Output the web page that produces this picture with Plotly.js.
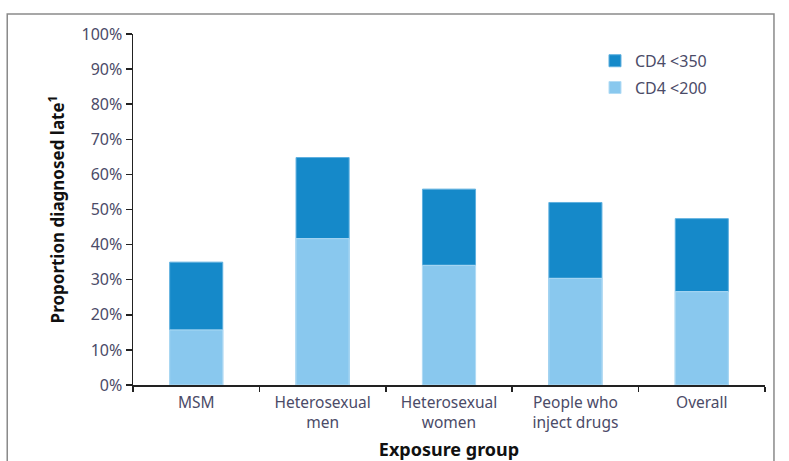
<!DOCTYPE html>
<html>
<head>
<meta charset="utf-8">
<script src="https://cdn.plot.ly/plotly-3.0.1.min.js"></script>
<style>html,body{margin:0;padding:0;background:#fff;}#chart{width:789px;height:461px;}</style>
</head>
<body>
<div id="chart"></div>
<script>
var categories = ["MSM", "Heterosexual<br>men", "Heterosexual<br>women", "People who<br>inject drugs", "Overall"];
var cd4Under350 = [35.0, 64.8, 55.8, 52.0, 47.4];
var cd4Under200 = [15.7, 41.7, 34.1, 30.4, 26.6];
var seriesNames = ["CD4 <350", "CD4 <200"];

var tickColor = "#4b4b68";
var fontFam = "Noto Sans, Open Sans, sans-serif";

var traces = [
  {type: "bar", x: categories, y: cd4Under350, name: seriesNames[0], legendgroup: "a",
   marker: {color: "#1589c9", line: {color: "#5fb0df", width: 1}}, hoverinfo: "y"},
  {type: "bar", x: categories, y: cd4Under200, name: seriesNames[1], legendgroup: "b",
   marker: {color: "#89c8ee", line: {color: "#b3dcf5", width: 1}}, hoverinfo: "y"}
];

var layout = {
  width: 789, height: 461,
  margin: {l: 133, r: 24, t: 34, b: 76},
  paper_bgcolor: "#fff", plot_bgcolor: "#fff",
  barmode: "overlay",
  bargap: 0.58,
  showlegend: true,
  legend: {x: 0.731, y: 0.972, xanchor: "left", yanchor: "top",
           traceorder: "grouped", tracegroupgap: 3,
           font: {family: fontFam, size: 16, color: tickColor},
           bgcolor: "rgba(0,0,0,0)", itemwidth: 30},
  xaxis: {
    type: "category", tickson: "boundaries",
    showline: true, linecolor: "#222", linewidth: 1.5,
    ticks: "outside", ticklen: 5, tickcolor: "#222", tickwidth: 1.5,
    showgrid: false, zeroline: false, ticklabelstandoff: 3,
    tickfont: {family: fontFam, size: 15.5, color: tickColor},
    title: {text: "<b>Exposure group</b>", font: {family: fontFam, size: 18, color: "#111"}, standoff: 19},
    fixedrange: true
  },
  yaxis: {
    range: [0, 100], dtick: 10, ticksuffix: "%",
    showline: true, linecolor: "#222", linewidth: 1.5,
    ticks: "outside", ticklen: 6, tickcolor: "#222", tickwidth: 1.5,
    showgrid: false, zeroline: false,
    tickfont: {family: fontFam, size: 16, color: tickColor},
    title: {text: "<b>Proportion diagnosed late<sup>1</sup></b>", font: {family: fontFam, size: 17, color: "#111"}, standoff: 12},
    fixedrange: true
  },
  shapes: [{
    type: "rect", xref: "paper", yref: "paper",
    x0: -0.199, x1: 1.0142, y0: -0.3, y1: 1.057,
    line: {color: "#8a8a8a", width: 1.5}, fillcolor: "rgba(0,0,0,0)", layer: "below"
  }]
};

Plotly.newPlot("chart", traces, layout, {displayModeBar: false, staticPlot: true});
</script>
</body>
</html>
